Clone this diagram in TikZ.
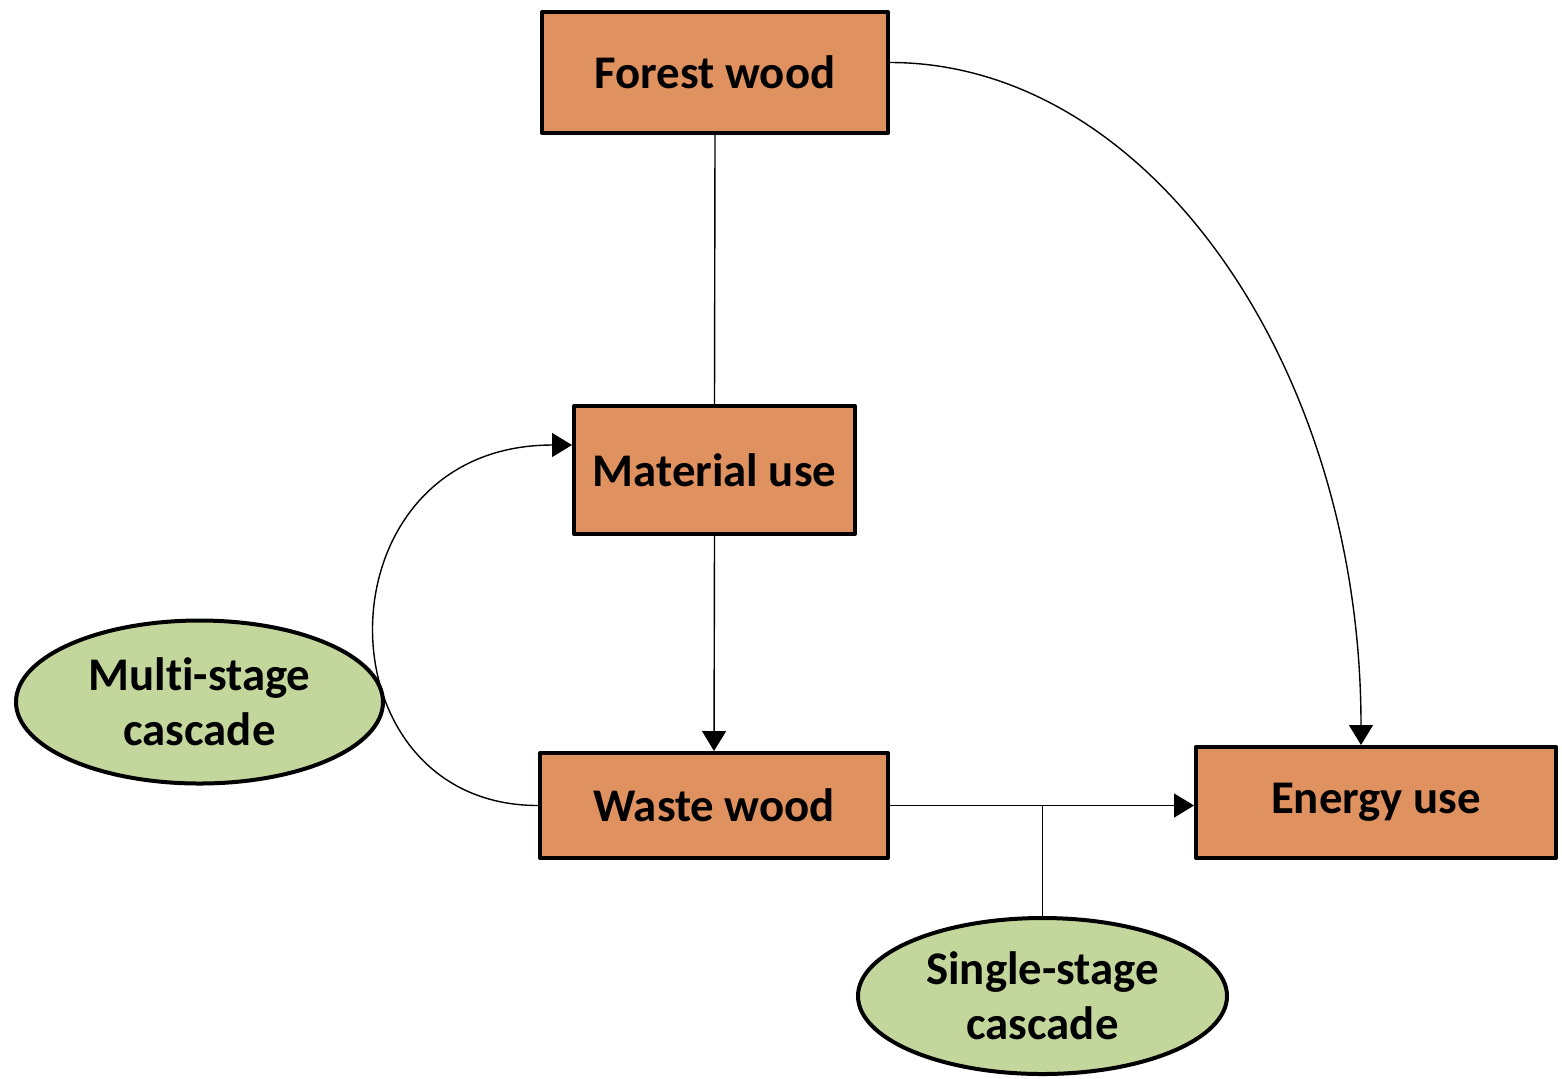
\documentclass[tikz,border=0pt]{standalone}
\usepackage{fontspec}
\setmainfont{Carlito}[Ligatures=NoCommon]
\usetikzlibrary{arrows.meta,shapes.geometric}
\definecolor{woodorange}{HTML}{DF915F}
\definecolor{cascgreen}{HTML}{C3D69B}
\tikzset{
  usebox/.style={draw, line width=2pt, fill=woodorange, inner sep=0pt,
    font=\fontsize{23.4}{27.5}\selectfont\bfseries, align=center},
  cascade/.style={draw, ellipse, line width=2pt, fill=cascgreen, inner sep=0pt,
    font=\fontsize{23.4}{27.5}\selectfont\bfseries, align=center},
  flow/.style={line width=0.7pt, -{Triangle[width=12pt,length=10pt]}}
}
\begin{document}
\begin{tikzpicture}[x=0.5pt,y=-0.5pt, line join=round]
  \useasboundingbox (0,0) rectangle (1562,1078);
  % --- boxes ---
  \node[usebox, minimum width=173pt, minimum height=60.5pt] (forest) at (715,72.5) {Forest wood};
  \node[usebox, minimum width=140.5pt, minimum height=64pt] (material) at (714.5,470) {Material use};
  \node[usebox, minimum width=174pt, minimum height=52.5pt] (waste) at (714,805.5) {Waste wood};
  \node[usebox, minimum width=180pt, minimum height=55.5pt] (energy) at (1376,802.5) {Energy use};
  % --- cascade labels ---
  \node[cascade, minimum width=183.5pt, minimum height=81.5pt] (multi) at (199.5,702) {Multi-stage\\cascade};
  \node[cascade, minimum width=184.5pt, minimum height=78pt] (single) at (1042.5,996) {Single-stage\\cascade};

  % === connectors ===
  \draw[line width=0.7pt] (forest.south) -- (material.north);
  \draw[flow] (material.south) -- (waste.north);
  \draw[flow] ([yshift=5pt]forest.east) .. controls +(260,0) and +(0,-377) .. ([xshift=-7.5pt]energy.north);
  \draw[flow] (waste.west) .. controls +(-223,0) and +(-257,0) .. ([yshift=12.5pt]material.west);
  \draw[flow] (waste.east) -- (waste.east -| energy.west);
  \draw[line width=0.7pt] (single.north) -- (single.north |- waste.east);
\end{tikzpicture}
\end{document}
